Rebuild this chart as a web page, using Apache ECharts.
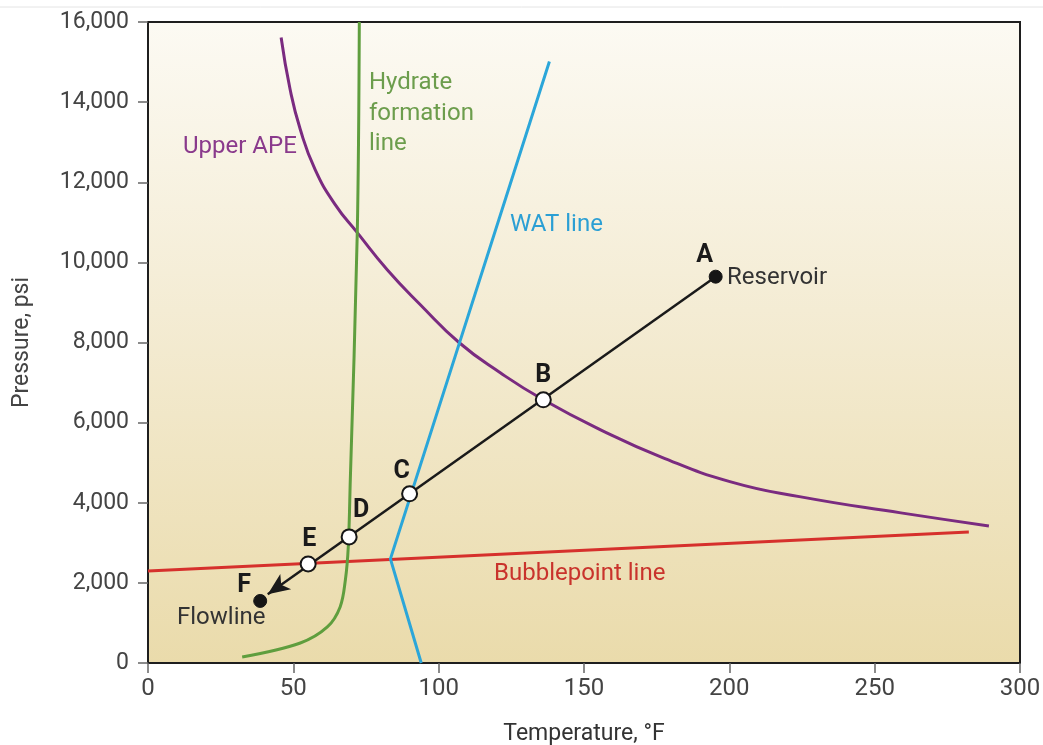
<!DOCTYPE html>
<html>
<head>
<meta charset="utf-8">
<script src="https://cdn.jsdelivr.net/npm/echarts@6/dist/echarts.min.js"></script>
<style>
html,body{margin:0;padding:0;background:#fff;}
#chart{width:1043px;height:745px;}
</style>
</head>
<body>
<div id="chart"></div>
<script>
// ---- data (Temperature °F, Pressure psi) ----
const xTicks = [0, 50, 100, 150, 200, 250, 300];
const yTicks = [0, 2000, 4000, 6000, 8000, 10000, 12000, 14000, 16000];

const upperApeT = [45.8, 48.9, 52.4, 57.5, 64.4, 72.0, 82.3, 93.7, 107.1, 121.2, 136.0, 155.7, 176.4, 200.5, 224.6, 259.0, 289.3];
const upperApeP = [15613, 14314, 13315, 12315, 11441, 10742, 9817, 8943, 7994, 7244, 6570, 5821, 5146, 4522, 4147, 3747, 3422];

const hydrateT = [32.4, 52.4, 61.7, 66.1, 67.9, 68.9, 69.6, 72.0, 72.7];
const hydrateP = [150, 500, 900, 1400, 2073, 2898, 4571, 10742, 16000];

const watT = [94.0, 83.4, 138.1];
const watP = [0, 2598, 15013];

const bubbleT = [0, 282.4];
const bubbleP = [2298, 3272];

const pathNames = ['A', 'B', 'C', 'D', 'E', 'F'];
const pathT = [195.3, 136.0, 90.0, 69.2, 55.1, 38.6];
const pathP = [9643, 6570, 4222, 3148, 2473, 1549];
const arrowTip = [41.2, 1716];

// ---- style / layout config ----
const FONT = 'Roboto, "Liberation Sans", sans-serif';
const letterOffsets = {A: [-11, -21], B: [0, -24], C: [-8, -22], D: [12, -26], E: [1, -24], F: [-16, -15]};
const filledPoints = ['A', 'F'];

const zip = (a, b) => a.map((v, i) => [v, b[i]]);

const chart = echarts.init(document.getElementById('chart'));

const pointData = pathNames.map((n, i) => {
  const filled = filledPoints.includes(n);
  return {
    name: n,
    value: [pathT[i], pathP[i]],
    symbolSize: filled ? 13 : 15,
    itemStyle: filled ? {color: '#161616', borderColor: '#161616', borderWidth: 1, opacity: 1}
                      : {color: '#ffffff', borderColor: '#161616', borderWidth: 2, opacity: 1},
    label: {show: true, formatter: n, position: 'inside', offset: letterOffsets[n],
            fontFamily: FONT, fontWeight: 'bold', fontSize: 25, color: '#1a1a1a'}
  };
});

const annFont = '24px ' + FONT;

const option = {
  animation: false,
  backgroundColor: '#ffffff',
  grid: {
    left: 148, right: 23, top: 22, bottom: 82,
    containLabel: false,
    outerBoundsMode: 'none',
    show: true,
    borderColor: '#1e1e1e', borderWidth: 2,
    backgroundColor: new echarts.graphic.LinearGradient(0, 0, 0, 1, [
      {offset: 0, color: '#fcfaf3'},
      {offset: 0.45, color: '#f4ecd4'},
      {offset: 1, color: '#eadbab'}
    ])
  },
  xAxis: {
    type: 'value', min: xTicks[0], max: xTicks[xTicks.length - 1], interval: 50,
    name: 'Temperature, °F', nameLocation: 'middle', nameGap: 60,
    nameTextStyle: {fontFamily: FONT, fontSize: 23, color: '#333'},
    axisLine: {show: true, lineStyle: {color: '#1e1e1e', width: 2}},
    axisTick: {show: true, inside: false, length: 10, lineStyle: {color: '#666', width: 1.5}},
    axisLabel: {margin: 14, fontFamily: FONT, fontSize: 24, color: '#444'},
    splitLine: {show: false}
  },
  yAxis: {
    type: 'value', min: yTicks[0], max: yTicks[yTicks.length - 1], interval: 2000,
    name: 'Pressure, psi', nameLocation: 'middle', nameGap: 114,
    nameTextStyle: {fontFamily: FONT, fontSize: 23, color: '#444'},
    axisLine: {show: true, lineStyle: {color: '#1e1e1e', width: 2}},
    axisTick: {show: true, inside: false, length: 10, lineStyle: {color: '#666', width: 1.5}},
    axisLabel: {margin: 19, fontFamily: FONT, fontSize: 23, color: '#444',
                formatter: v => v.toLocaleString('en-US')},
    splitLine: {show: false}
  },
  series: [
    {
      name: 'Bubblepoint line', type: 'line', data: zip(bubbleT, bubbleP),
      showSymbol: false, lineStyle: {color: '#d6302c', width: 3}, z: 3
    },
    {
      name: 'Upper APE', type: 'line', data: zip(upperApeT, upperApeP),
      showSymbol: false, smooth: 0.5, lineStyle: {color: '#7a2b80', width: 3}, z: 3
    },
    {
      name: 'Hydrate formation line', type: 'line', data: zip(hydrateT, hydrateP),
      showSymbol: false, smooth: 0.35, lineStyle: {color: '#5f9e3e', width: 3}, z: 3
    },
    {
      name: 'WAT line', type: 'line', data: zip(watT, watP),
      showSymbol: false, lineStyle: {color: '#2ba6d9', width: 3}, z: 3
    },
    {
      name: 'Path', type: 'line', data: [],
      markLine: {
        silent: true, symbol: ['none', 'arrow'], symbolSize: [14, 22],
        label: {show: false},
        lineStyle: {color: '#1a1a1a', width: 2.5, type: 'solid'},
        data: [[{coord: [pathT[0], pathP[0]]}, {coord: arrowTip}]]
      },
      z: 4
    },
    {
      name: 'Points', type: 'scatter', data: pointData, z: 5
    }
  ],
  graphic: [
    {type: 'line', shape: {x1: 0, y1: 7, x2: 1043, y2: 7}, style: {stroke: '#e4e4e4', lineWidth: 1}},
    {type: 'text', left: 183, top: 135, style: {text: 'Upper APE', font: annFont, fill: '#8a3a8c'}},
    {type: 'text', left: 369, top: 68, style: {text: 'Hydrate\nformation\nline', font: annFont, fill: '#6c9d4c', lineHeight: 30.5}},
    {type: 'text', left: 510, top: 213, style: {text: 'WAT line', font: annFont, fill: '#2b9fd4'}},
    {type: 'text', left: 494, top: 562, style: {text: 'Bubblepoint line', font: annFont, fill: '#c9332c'}},
    {type: 'text', left: 727, top: 266, style: {text: 'Reservoir', font: annFont, fill: '#333'}},
    {type: 'text', left: 177, top: 606, style: {text: 'Flowline', font: annFont, fill: '#333'}}
  ]
};

chart.setOption(option);
</script>
</body>
</html>
